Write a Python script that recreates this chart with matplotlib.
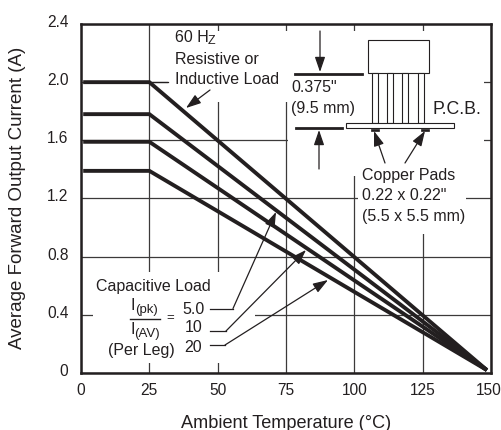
import matplotlib
matplotlib.use('Agg')
import matplotlib.pyplot as plt
from matplotlib.patches import Rectangle, FancyArrowPatch
from matplotlib.transforms import ScaledTranslation

plt.rcParams['font.family'] = ['Liberation Sans', 'DejaVu Sans']

# derating curves, knee at 25 C, all run down to about 150 C
temps = [0.8, 25, 148.5]
resistive = [2.0, 2.0, 0.02]
cap_50 = [1.78, 1.78, 0.02]
cap_10 = [1.59, 1.59, 0.02]
cap_20 = [1.39, 1.39, 0.02]

x_ticks = [0, 25, 50, 75, 100, 125, 150]
y_ticks = [0, 0.4, 0.8, 1.2, 1.6, 2.0, 2.4]
y_labels = ['0', '0.4', '0.8', '1.2', '1.6', '2.0', '2.4']

W, H = 501, 430
INK = '#231f20'

fig = plt.figure(figsize=(W / 100, H / 100), dpi=100)
ax = fig.add_axes([81 / W, 1 - 373 / H, 410 / W, 349 / H])
ax.set_xlim(0, 150)
ax.set_ylim(0, 2.4)
ax.set_xticks(x_ticks)
ax.set_yticks(y_ticks)
ax.set_yticklabels(y_labels)
ax.tick_params(length=0, labelsize=11.2, labelcolor=INK)
ax.tick_params(axis='y', pad=9)
ax.tick_params(axis='x', pad=7)
ax.grid(True, color='#3c3a3a', lw=0.9, zorder=1)
ax.set_axisbelow(True)
for s in ax.spines.values():
    s.set_linewidth(1.8)
    s.set_color(INK)

# tick labels sit a little off their ticks in the original
for t in ax.get_yticklabels():
    t.set_transform(t.get_transform() + ScaledTranslation(0, 3 / 100, fig.dpi_scale_trans))
ax.get_xticklabels()[-1].set_transform(ax.get_xticklabels()[-1].get_transform()
                                       + ScaledTranslation(-2 / 100, 0, fig.dpi_scale_trans))


# annotation artwork is placed in picture pixels
def px(x, y):
    return x / W, 1 - y / H


def blank(x0, y0, x1, y1):
    ax.add_patch(Rectangle(px(x0, y1), (x1 - x0) / W, (y1 - y0) / H, transform=fig.transFigure,
                           fc='white', ec='none', zorder=1.5))


def box(x0, y0, w, h, fill='white', lw=0.8):
    ax.add_patch(Rectangle(px(x0, y0 + h), w / W, h / H, transform=fig.transFigure,
                           fc=fill, ec=INK, lw=lw, zorder=4))


def label(x, y, s, size=11.5, **kw):
    fig.text(*px(x, y), s, fontsize=size, color=INK, va='center', zorder=6, **kw)


def seg(x0, y0, x1, y1, lw=0.9):
    fig.add_artist(plt.Line2D([x0 / W, x1 / W], [1 - y0 / H, 1 - y1 / H], color=INK, lw=lw, zorder=6))


def arrow(x0, y0, x1, y1):
    fig.add_artist(FancyArrowPatch(px(x0, y0), px(x1, y1), transform=fig.transFigure,
                   arrowstyle='-|>,head_length=0.7,head_width=0.24', mutation_scale=13, lw=0.9,
                   color=INK, shrinkA=0, shrinkB=0, zorder=6))


fig.text(*px(286, 423), 'Ambient Temperature (°C)', fontsize=13.1, color=INK, ha='center', va='center')
fig.text(*px(18, 198), 'Average Forward Output Current (A)', fontsize=13.5, color=INK,
         rotation=90, ha='center', va='center')

# white areas behind the notes, they cut the grid
blank(168, 31, 484, 102)
blank(288, 102, 484, 176)
blank(358, 176, 466, 234)
blank(93, 272, 255, 363)

for curve in (resistive, cap_50, cap_10, cap_20):
    ax.plot(temps, curve, color=INK, lw=2.8, solid_capstyle='butt', solid_joinstyle='miter', zorder=3)

# 60 Hz note
label(175, 37, '60 H')
label(208, 41, 'Z', size=9)
label(175, 59, 'Resistive or')
label(175, 79, 'Inductive Load')
seg(150, 82, 168, 82)
arrow(210, 90, 186, 108)

# lead length dimension
arrow(320, 31, 320, 72)
seg(295, 74, 362, 74, 2)
label(291, 88, '0.375"')
label(291, 109, '(9.5 mm)')
seg(296, 127.5, 342, 127.5, 2)
arrow(319, 169, 319, 130)

# package drawing
box(367.5, 40, 61, 33)
for x0 in (372, 387, 402, 418):
    box(x0, 73, 6, 50)
box(346, 123, 108, 5)
for x0 in (371, 421):
    box(x0, 129, 8, 2, fill=INK, lw=0.5)
label(433, 110, 'P.C.B.', size=12.8)

# copper pads
arrow(385, 163, 374, 131)
arrow(405, 163, 425, 131)
label(362, 175, 'Copper Pads')
label(362, 196, '0.22 x 0.22"')
label(362, 217, '(5.5 x 5.5 mm)')

# capacitive load note
label(96, 287, 'Capacitive Load')
label(131, 305, 'I')
label(135, 310, '(pk)', size=9.5)
seg(130, 319, 160, 319, 1)
label(130, 330, 'I')
label(134, 334, '(AV)', size=9.5)
label(166, 318, '=', size=9.5)
label(108, 350, '(Per Leg)')
label(182, 309, '5.0')
label(185, 328, '10')
label(184, 348, '20')

seg(210, 308.5, 233, 308.5)
seg(210, 331, 226, 331)
seg(210, 345, 225, 345)
arrow(233, 308.5, 276, 212)
arrow(226, 331, 306, 250)
arrow(225, 345, 328, 280)

fig.savefig('out.png', dpi=100)
